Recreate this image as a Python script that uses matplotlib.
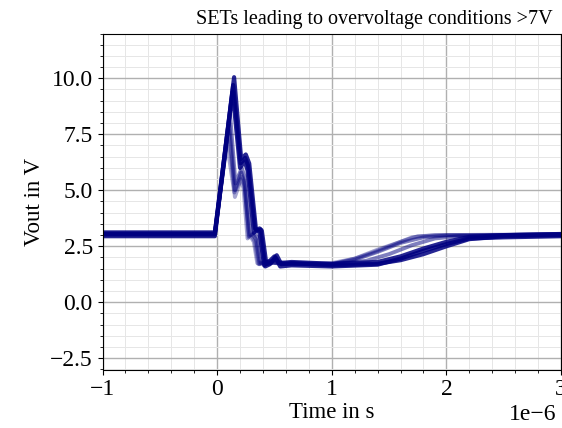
import matplotlib
matplotlib.use("Agg")
import matplotlib.pyplot as plt
from matplotlib.ticker import MultipleLocator
import numpy as np

plt.rcParams['font.family'] = ['Liberation Serif', 'DejaVu Serif']

# Time points in microseconds, voltages in V
t_dark1 = [-1.0, -0.02, 0.148, 0.21, 0.25, 0.28, 0.34, 0.37, 0.39, 0.43, 0.47, 0.52, 0.56, 0.65, 1.0, 1.4, 1.6, 1.8, 2.0, 2.2, 2.5, 3.0]
v_dark1 = [3.05, 3.05, 10.05, 6.4, 6.6, 6.2, 3.2, 3.3, 3.2, 1.7, 1.75, 2.1, 1.7, 1.75, 1.65, 1.72, 1.88, 2.15, 2.5, 2.82, 2.95, 3.0]

t_dark2 = [-1.0, -0.02, 0.14, 0.205, 0.245, 0.27, 0.33, 0.36, 0.38, 0.42, 0.46, 0.51, 0.55, 0.65, 1.0, 1.4, 1.6, 1.8, 2.0, 2.2, 2.5, 3.0]
v_dark2 = [2.95, 2.95, 9.7, 6.2, 6.45, 6.1, 3.3, 3.2, 3.25, 1.6, 1.7, 2.0, 1.6, 1.65, 1.6, 1.68, 1.95, 2.3, 2.6, 2.85, 2.9, 2.95]

t_dark3 = [-1.0, -0.02, 0.135, 0.2, 0.24, 0.265, 0.32, 0.35, 0.37, 0.41, 0.45, 0.5, 0.54, 0.65, 1.0, 1.4, 1.6, 1.8, 2.0, 2.2, 2.5, 3.0]
v_dark3 = [3.12, 3.12, 9.4, 6.0, 6.3, 5.9, 3.1, 3.25, 3.1, 1.65, 1.8, 2.05, 1.75, 1.8, 1.72, 1.8, 2.05, 2.4, 2.7, 2.92, 3.0, 3.05]

t_mid1 = [-1.0, -0.02, 0.113, 0.16, 0.215, 0.24, 0.29, 0.32, 0.35, 0.38, 0.45, 0.6, 1.0, 1.3, 1.5, 1.7, 1.9, 2.1, 2.5, 3.0]
v_mid1 = [3.05, 3.05, 8.4, 5.3, 6.0, 5.6, 3.0, 3.1, 2.9, 1.75, 1.85, 1.75, 1.7, 1.85, 2.15, 2.55, 2.85, 2.95, 3.0, 3.05]

t_mid2 = [-1.0, -0.02, 0.105, 0.155, 0.21, 0.235, 0.28, 0.31, 0.34, 0.37, 0.44, 0.6, 1.0, 1.2, 1.4, 1.6, 1.8, 2.0, 2.5, 3.0]
v_mid2 = [3.0, 3.0, 8.0, 5.0, 5.8, 5.4, 2.95, 3.05, 2.8, 1.7, 1.8, 1.7, 1.7, 1.9, 2.25, 2.65, 2.9, 2.98, 3.0, 3.0]

t_light1 = [-1.0, -0.02, 0.1, 0.155, 0.215, 0.24, 0.275, 0.3, 0.33, 0.36, 0.42, 0.6, 1.0, 1.2, 1.4, 1.6, 1.75, 1.95, 2.5, 3.0]
v_light1 = [3.1, 3.1, 7.7, 4.7, 5.6, 5.2, 2.9, 3.0, 2.7, 1.7, 1.8, 1.72, 1.75, 1.95, 2.35, 2.7, 2.95, 3.0, 3.02, 3.05]

t_light2 = [-1.0, -0.02, 0.085, 0.15, 0.205, 0.23, 0.265, 0.29, 0.32, 0.35, 0.42, 0.6, 1.0, 1.2, 1.35, 1.55, 1.7, 1.9, 2.5, 3.0]
v_light2 = [3.05, 3.05, 7.1, 4.9, 5.5, 5.1, 2.85, 2.95, 2.7, 1.75, 1.8, 1.7, 1.7, 1.95, 2.2, 2.6, 2.9, 3.0, 3.0, 3.05]

dark_traces = [(t_dark1, v_dark1), (t_dark2, v_dark2), (t_dark3, v_dark3)]
mid_traces = [(t_mid1, v_mid1), (t_mid2, v_mid2)]
light_traces = [(t_light1, v_light1), (t_light2, v_light2)]

W, H = 562, 428
fig = plt.figure(figsize=(W / 100, H / 100), dpi=100)
left, right, top, bottom = 102.5, 561.0, 33.5, 369.5
ax = fig.add_axes([left / W, 1 - bottom / H, (right - left) / W, (bottom - top) / H])

color = '#000080'
for t, v in light_traces:
    ax.plot(np.array(t) * 1e-6, v, color=color, alpha=0.35, lw=2.8, solid_joinstyle='round')
for t, v in mid_traces:
    ax.plot(np.array(t) * 1e-6, v, color=color, alpha=0.5, lw=2.8, solid_joinstyle='round')
for t, v in dark_traces:
    ax.plot(np.array(t) * 1e-6, v, color=color, alpha=0.85, lw=3.0, solid_joinstyle='round')

ax.set_xlim(-1e-6, 3e-6)
ax.set_ylim(-3, 12)
ax.xaxis.set_major_locator(MultipleLocator(1e-6))
ax.xaxis.set_minor_locator(MultipleLocator(0.2e-6))
ax.yaxis.set_major_locator(MultipleLocator(2.5))
ax.yaxis.set_minor_locator(MultipleLocator(0.5))
ax.grid(which='major', color='#b0b0b0', lw=1.0)
ax.grid(which='minor', color='#e6e6e6', lw=0.7)
ax.set_axisbelow(True)
ax.tick_params(labelsize=17)
ax.xaxis.get_offset_text().set_fontsize(17)
ax.xaxis.get_offset_text().set_x(0.989)
ax.set_xlabel('Time in s', fontsize=16.5, labelpad=1)
ax.set_ylabel('Vout in V', fontsize=16.5)
fig.text(374 / W, 1 - 24 / H, 'SETs leading to overvoltage conditions >7V', ha='center', va='baseline', fontsize=14.5)

fig.savefig('out.png', dpi=100)
